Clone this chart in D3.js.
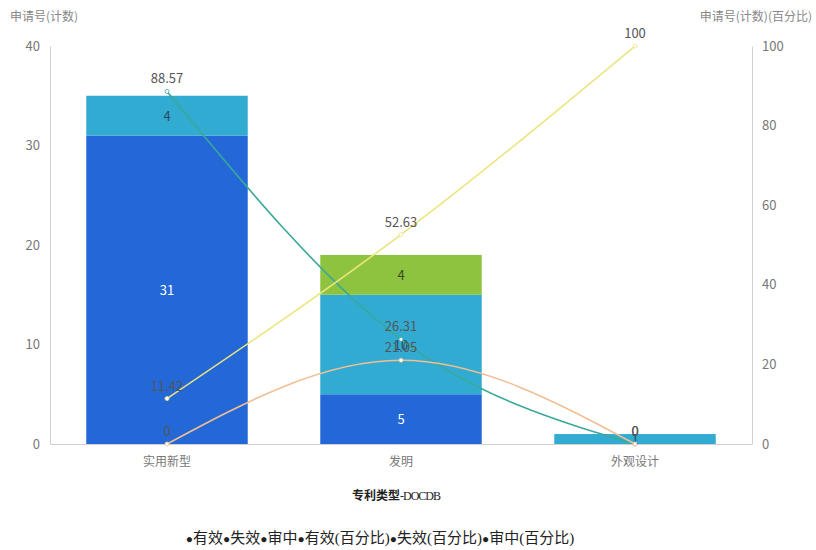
<!DOCTYPE html>
<html>
<head>
<meta charset="utf-8">
<script src="https://cdn.jsdelivr.net/npm/d3@7"></script>
<style>
  body { margin: 0; background: #fff; }
  text { font-family: "Noto Sans CJK SC", "Noto Sans", sans-serif; }
</style>
</head>
<body>
<script>
'use strict';

// categories and series
var categories = ['实用新型', '发明', '外观设计'];
var valid = [31, 5, 0];       // 有效
var invalid = [4, 10, 1];     // 失效
var pending = [0, 4, 0];      // 审中
var validPct = [88.57, 26.31, 0];
var invalidPct = [11.42, 52.63, 100];
var pendingPct = [0, 21.05, 0];
var leftTicks = [0, 10, 20, 30, 40];
var rightTicks = [0, 20, 40, 60, 80, 100];
var legendLabels = ['有效', '失效', '审中', '有效(百分比)', '失效(百分比)', '审中(百分比)'];

var W = 816, H = 550;
var svg = d3.select('body').append('svg').attr('width', W).attr('height', H);

var x = d3.scaleBand().domain(categories).range([50, 752]).paddingInner(0.31).paddingOuter(0.155);
var y = d3.scaleLinear().domain([0, 40]).range([444, 46]);
var y2 = d3.scaleLinear().domain([0, 100]).range([444, 46]);

// axes
var gl = svg.append('g').attr('transform', 'translate(50,0)')
	.call(d3.axisLeft(y).tickValues(leftTicks).tickSize(0).tickPadding(10));
var gr = svg.append('g').attr('transform', 'translate(752,0)')
	.call(d3.axisRight(y2).tickValues(rightTicks).tickSize(0).tickPadding(10));
var gx = svg.append('g').attr('transform', 'translate(0,444)')
	.call(d3.axisBottom(x).tickSize(0).tickPadding(13));
[gl, gr, gx].forEach(function(g) {
	g.select('.domain').attr('stroke', '#d0d0d0');
	g.selectAll('text').attr('fill', '#777').style('font-size', '13px');
});
gx.selectAll('text').style('font-size', '12px');

svg.append('text').attr('x', 10).attr('y', 21).attr('fill', '#888')
	.style('font-size', '12px').text('申请号(计数)');
svg.append('text').attr('x', 812).attr('y', 21).attr('fill', '#888').attr('text-anchor', 'end')
	.style('font-size', '12px').text('申请号(计数)(百分比)');

// stacked bars
var stackData = categories.map(function(c, i) {
	return { cat: c, valid: valid[i], invalid: invalid[i], pending: pending[i] };
});
var keys = ['valid', 'invalid', 'pending'];
var colors = { valid: '#2368d6', invalid: '#31abd2', pending: '#8dc33f' };
var labelColors = { valid: '#fff', invalid: '#2a4a60', pending: '#3a4a20' };
var series = d3.stack().keys(keys)(stackData);

var groups = svg.selectAll('g.series').data(series).enter().append('g').attr('class', 'series');
groups.selectAll('rect').data(function(d) { return d; }).enter().append('rect')
	.attr('x', d => x(d.data.cat))
	.attr('width', x.bandwidth())
	.attr('y', d => y(d[1]))
	.attr('height', d => y(d[0]) - y(d[1]))
	.attr('fill', function() { return colors[d3.select(this.parentNode).datum().key]; });

groups.each(function(s) {
	d3.select(this).selectAll('text').data(s.filter(d => d[1] - d[0] > 0)).enter().append('text')
		.attr('x', d => x(d.data.cat) + x.bandwidth() / 2)
		.attr('y', d => (y(d[0]) + y(d[1])) / 2 + 5)
		.attr('text-anchor', 'middle')
		.attr('fill', labelColors[s.key])
		.style('font-size', '13px')
		.text(d => d[1] - d[0]);
});

// percentage lines
var lines = [
	{ vals: validPct, color: '#3aa89a' },
	{ vals: invalidPct, color: '#ece57f' },
	{ vals: pendingPct, color: '#f2bf92' }
];
var line = d3.line()
	.x((d, i) => x(categories[i]) + x.bandwidth() / 2)
	.y(d => y2(d))
	.curve(d3.curveMonotoneX);

lines.forEach(function(l) {
	svg.append('path').datum(l.vals).attr('d', line)
		.attr('fill', 'none').attr('stroke', l.color).attr('stroke-width', 1.6);
});
lines.forEach(function(l) {
	svg.selectAll(null).data(l.vals).enter().append('circle')
		.attr('cx', (d, i) => x(categories[i]) + x.bandwidth() / 2)
		.attr('cy', d => y2(d))
		.attr('r', 2)
		.attr('fill', '#fff').attr('stroke', l.color).attr('stroke-width', 0.8);
	svg.selectAll(null).data(l.vals).enter().append('text')
		.attr('x', (d, i) => x(categories[i]) + x.bandwidth() / 2)
		.attr('y', d => y2(d) - 8)
		.attr('text-anchor', 'middle')
		.attr('fill', '#555')
		.style('font-size', '13px')
		.text(d => d);
});

// title and legend
var title = svg.append('text').attr('x', 396).attr('y', 500).attr('text-anchor', 'middle')
	.attr('fill', '#222').style('font-size', '12px');
title.append('tspan').style('font-weight', 'bold').text('专利类型');
title.append('tspan').style('font-family', '"Liberation Serif", serif')
	.style('letter-spacing', '-1px').text('-DOCDB');

var legend = svg.append('text').attr('x', 380).attr('y', 543).attr('text-anchor', 'middle')
	.attr('fill', '#222').style('font-size', '15px')
	.style('font-family', '"Liberation Serif", "DejaVu Serif", "Noto Sans CJK SC", serif');
legendLabels.forEach(function(l) {
	legend.append('tspan').style('font-size', '12px').text('●');
	legend.append('tspan').text(l);
});
</script>
</body>
</html>
